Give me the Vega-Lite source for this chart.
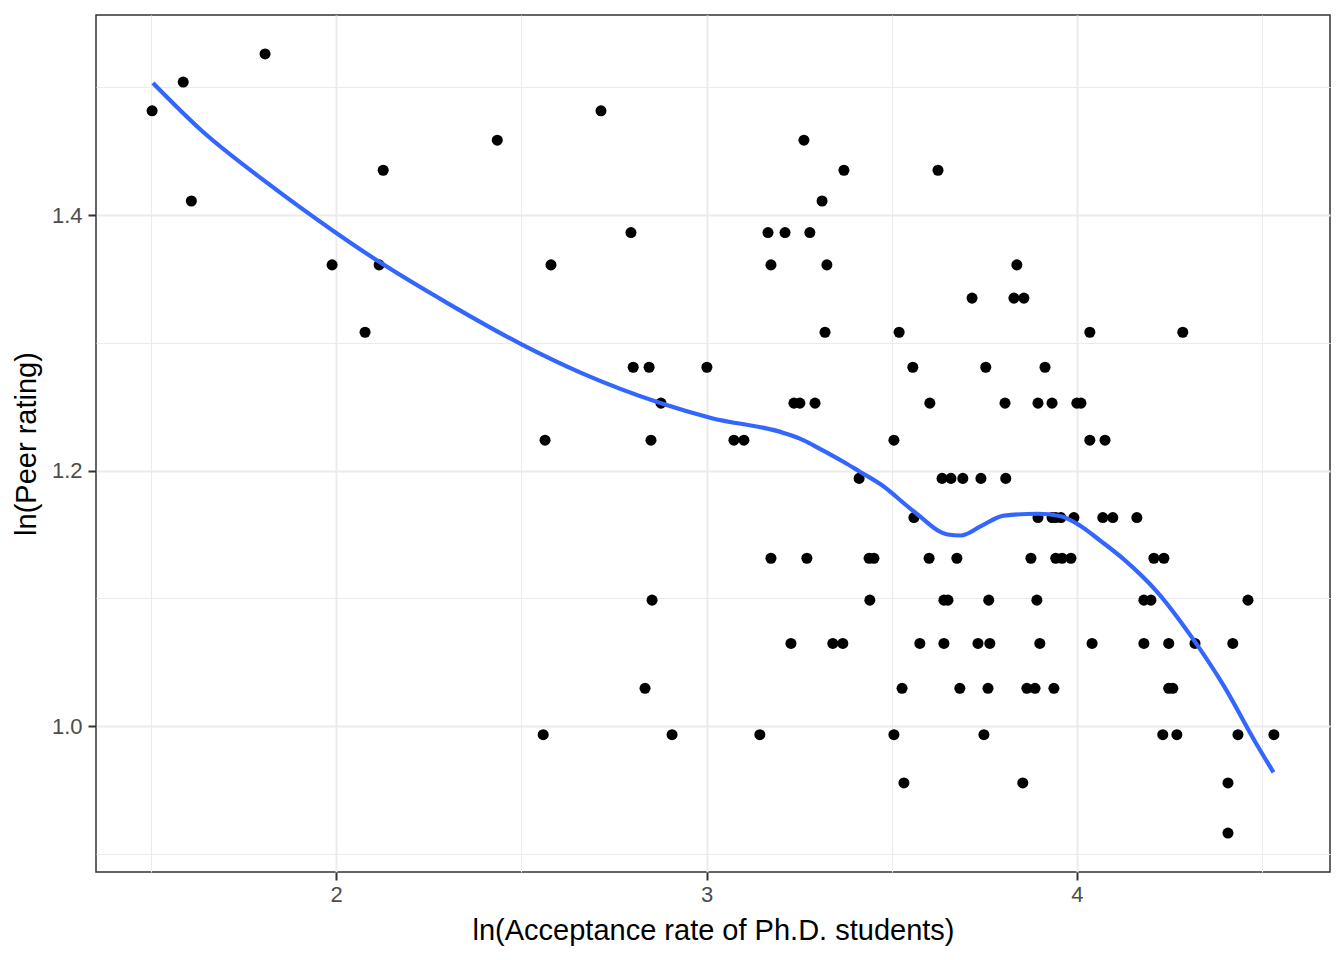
{
  "$schema": "https://vega.github.io/schema/vega-lite/v6.json",
  "width": 1234,
  "height": 857,
  "autosize": {"type": "none"},
  "padding": {"left": 96, "top": 15, "right": 14, "bottom": 88},
  "background": "white",
  "config": {
    "view": {"stroke": "#333333", "strokeWidth": 1.5},
    "font": "Liberation Sans",
    "axis": {
      "labelFont": "Liberation Sans",
      "titleFont": "Liberation Sans",
      "labelFontSize": 22,
      "labelColor": "#4D4D4D",
      "titleFontSize": 29,
      "titleFontWeight": "normal",
      "titleColor": "#000000",
      "tickColor": "#333333",
      "tickWidth": 2,
      "tickSize": 8,
      "domain": false,
      "gridColor": "#EBEBEB",
      "gridWidth": 2
    }
  },
  "datasets": {
    "points": [
      {"acc": 1.503, "peer": 1.4816},
      {"acc": 1.587, "peer": 1.5041},
      {"acc": 1.609, "peer": 1.4110},
      {"acc": 1.808, "peer": 1.5261},
      {"acc": 1.989, "peer": 1.3610},
      {"acc": 2.078, "peer": 1.3083},
      {"acc": 2.116, "peer": 1.3610},
      {"acc": 2.127, "peer": 1.4351},
      {"acc": 2.435, "peer": 1.4586},
      {"acc": 2.559, "peer": 0.9933},
      {"acc": 2.564, "peer": 1.2238},
      {"acc": 2.580, "peer": 1.3610},
      {"acc": 2.715, "peer": 1.4816},
      {"acc": 2.796, "peer": 1.3863},
      {"acc": 2.802, "peer": 1.2809},
      {"acc": 2.834, "peer": 1.0296},
      {"acc": 2.845, "peer": 1.2809},
      {"acc": 2.850, "peer": 1.2238},
      {"acc": 2.853, "peer": 1.0986},
      {"acc": 2.877, "peer": 1.2528},
      {"acc": 2.907, "peer": 0.9933},
      {"acc": 3.001, "peer": 1.2809},
      {"acc": 3.074, "peer": 1.2238},
      {"acc": 3.101, "peer": 1.2238},
      {"acc": 3.144, "peer": 0.9933},
      {"acc": 3.166, "peer": 1.3863},
      {"acc": 3.174, "peer": 1.3610},
      {"acc": 3.174, "peer": 1.1314},
      {"acc": 3.212, "peer": 1.3863},
      {"acc": 3.228, "peer": 1.0647},
      {"acc": 3.236, "peer": 1.2528},
      {"acc": 3.252, "peer": 1.2528},
      {"acc": 3.263, "peer": 1.4586},
      {"acc": 3.271, "peer": 1.1314},
      {"acc": 3.279, "peer": 1.3863},
      {"acc": 3.293, "peer": 1.2528},
      {"acc": 3.312, "peer": 1.4110},
      {"acc": 3.320, "peer": 1.3083},
      {"acc": 3.325, "peer": 1.3610},
      {"acc": 3.341, "peer": 1.0647},
      {"acc": 3.368, "peer": 1.0647},
      {"acc": 3.371, "peer": 1.4351},
      {"acc": 3.412, "peer": 1.1939},
      {"acc": 3.439, "peer": 1.1314},
      {"acc": 3.441, "peer": 1.0986},
      {"acc": 3.452, "peer": 1.1314},
      {"acc": 3.506, "peer": 0.9933},
      {"acc": 3.506, "peer": 1.2238},
      {"acc": 3.520, "peer": 1.3083},
      {"acc": 3.528, "peer": 1.0296},
      {"acc": 3.533, "peer": 0.9555},
      {"acc": 3.557, "peer": 1.2809},
      {"acc": 3.560, "peer": 1.1632},
      {"acc": 3.576, "peer": 1.0647},
      {"acc": 3.601, "peer": 1.1314},
      {"acc": 3.603, "peer": 1.2528},
      {"acc": 3.625, "peer": 1.4351},
      {"acc": 3.636, "peer": 1.1939},
      {"acc": 3.641, "peer": 1.0986},
      {"acc": 3.641, "peer": 1.0647},
      {"acc": 3.652, "peer": 1.0986},
      {"acc": 3.660, "peer": 1.1939},
      {"acc": 3.676, "peer": 1.1314},
      {"acc": 3.684, "peer": 1.0296},
      {"acc": 3.692, "peer": 1.1939},
      {"acc": 3.717, "peer": 1.3350},
      {"acc": 3.733, "peer": 1.0647},
      {"acc": 3.741, "peer": 1.1939},
      {"acc": 3.749, "peer": 0.9933},
      {"acc": 3.754, "peer": 1.2809},
      {"acc": 3.760, "peer": 1.0296},
      {"acc": 3.762, "peer": 1.0986},
      {"acc": 3.765, "peer": 1.0647},
      {"acc": 3.806, "peer": 1.2528},
      {"acc": 3.808, "peer": 1.1939},
      {"acc": 3.830, "peer": 1.3350},
      {"acc": 3.838, "peer": 1.3610},
      {"acc": 3.854, "peer": 0.9555},
      {"acc": 3.857, "peer": 1.3350},
      {"acc": 3.865, "peer": 1.0296},
      {"acc": 3.876, "peer": 1.1314},
      {"acc": 3.887, "peer": 1.0296},
      {"acc": 3.892, "peer": 1.0986},
      {"acc": 3.895, "peer": 1.1632},
      {"acc": 3.895, "peer": 1.2528},
      {"acc": 3.900, "peer": 1.0647},
      {"acc": 3.914, "peer": 1.2809},
      {"acc": 3.933, "peer": 1.2528},
      {"acc": 3.933, "peer": 1.1632},
      {"acc": 3.938, "peer": 1.0296},
      {"acc": 3.943, "peer": 1.1314},
      {"acc": 3.943, "peer": 1.1632},
      {"acc": 3.960, "peer": 1.1314},
      {"acc": 3.957, "peer": 1.1632},
      {"acc": 3.984, "peer": 1.1314},
      {"acc": 3.992, "peer": 1.1632},
      {"acc": 4.000, "peer": 1.2528},
      {"acc": 4.011, "peer": 1.2528},
      {"acc": 4.035, "peer": 1.3083},
      {"acc": 4.035, "peer": 1.2238},
      {"acc": 4.041, "peer": 1.0647},
      {"acc": 4.070, "peer": 1.1632},
      {"acc": 4.076, "peer": 1.2238},
      {"acc": 4.097, "peer": 1.1632},
      {"acc": 4.162, "peer": 1.1632},
      {"acc": 4.181, "peer": 1.0986},
      {"acc": 4.181, "peer": 1.0647},
      {"acc": 4.200, "peer": 1.0986},
      {"acc": 4.208, "peer": 1.1314},
      {"acc": 4.232, "peer": 0.9933},
      {"acc": 4.235, "peer": 1.1314},
      {"acc": 4.248, "peer": 1.0647},
      {"acc": 4.248, "peer": 1.0296},
      {"acc": 4.259, "peer": 1.0296},
      {"acc": 4.270, "peer": 0.9933},
      {"acc": 4.286, "peer": 1.3083},
      {"acc": 4.319, "peer": 1.0647},
      {"acc": 4.408, "peer": 0.9555},
      {"acc": 4.408, "peer": 0.9163},
      {"acc": 4.421, "peer": 1.0647},
      {"acc": 4.435, "peer": 0.9933},
      {"acc": 4.462, "peer": 1.0986},
      {"acc": 4.532, "peer": 0.9933}
    ],
    "curve": [
      {"acc": 1.5053, "fit": 1.5034},
      {"acc": 1.6356, "fit": 1.4664},
      {"acc": 1.8157, "fit": 1.4248},
      {"acc": 1.9954, "fit": 1.3870},
      {"acc": 2.1215, "fit": 1.3624},
      {"acc": 2.3015, "fit": 1.3309},
      {"acc": 2.4993, "fit": 1.2990},
      {"acc": 2.6613, "fit": 1.2765},
      {"acc": 2.8772, "fit": 1.2527},
      {"acc": 3.0121, "fit": 1.2412},
      {"acc": 3.2100, "fit": 1.2293},
      {"acc": 3.2640, "fit": 1.2235},
      {"acc": 3.3001, "fit": 1.2180},
      {"acc": 3.3719, "fit": 1.2065},
      {"acc": 3.4120, "fit": 1.1995},
      {"acc": 3.4710, "fit": 1.1891},
      {"acc": 3.5601, "fit": 1.1680},
      {"acc": 3.6510, "fit": 1.1500},
      {"acc": 3.6869, "fit": 1.1492},
      {"acc": 3.7409, "fit": 1.1565},
      {"acc": 3.8030, "fit": 1.1648},
      {"acc": 3.8939, "fit": 1.1662},
      {"acc": 3.9568, "fit": 1.1643},
      {"acc": 4.0108, "fit": 1.1565},
      {"acc": 4.0648, "fit": 1.1448},
      {"acc": 4.1269, "fit": 1.1305},
      {"acc": 4.2178, "fit": 1.1047},
      {"acc": 4.3077, "fit": 1.0706},
      {"acc": 4.3968, "fit": 1.0315},
      {"acc": 4.4877, "fit": 0.9846},
      {"acc": 4.5309, "fit": 0.9638}
    ]
  },
  "layer": [
    {
      "data": {"name": "points"},
      "mark": {"type": "point", "opacity": 0, "size": 1},
      "encoding": {
        "x": {
          "field": "acc", "type": "quantitative",
          "scale": {"domain": [1.3515, 4.6835], "nice": false, "zero": false},
          "axis": {"orient": "top", "values": [1.5, 2.5, 3.5, 4.5], "labels": false, "ticks": false, "domain": false, "title": null, "grid": true, "gridWidth": 1, "gridColor": "#EBEBEB"}
        },
        "y": {
          "field": "peer", "type": "quantitative",
          "scale": {"domain": [0.8858, 1.5566], "nice": false, "zero": false},
          "axis": {"orient": "right", "values": [0.9, 1.1, 1.3, 1.5], "labels": false, "ticks": false, "domain": false, "title": null, "grid": true, "gridWidth": 1, "gridColor": "#EBEBEB"}
        }
      }
    },
    {
      "data": {"name": "points"},
      "mark": {"type": "point", "filled": true, "color": "#000000", "opacity": 1, "size": 122, "shape": "circle"},
      "encoding": {
        "x": {
          "field": "acc", "type": "quantitative",
          "axis": {"values": [2, 3, 4], "format": "d", "grid": true, "title": "ln(Acceptance rate of Ph.D. students)", "labelPadding": 4, "titlePadding": 11}
        },
        "y": {
          "field": "peer", "type": "quantitative",
          "axis": {"values": [1.0, 1.2, 1.4], "format": ".1f", "grid": true, "title": "ln(Peer rating)", "labelPadding": 6, "titlePadding": 10}
        }
      }
    },
    {
      "data": {"name": "curve"},
      "mark": {"type": "line", "color": "#3366FF", "strokeWidth": 4.2, "interpolate": "monotone"},
      "encoding": {
        "x": {"field": "acc", "type": "quantitative", "axis": null},
        "y": {"field": "fit", "type": "quantitative", "axis": null}
      }
    }
  ],
  "resolve": {"axis": {"x": "independent", "y": "independent"}}
}
